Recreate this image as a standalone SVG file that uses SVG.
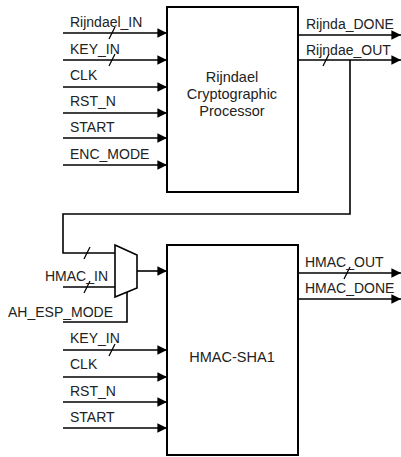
<svg xmlns="http://www.w3.org/2000/svg" width="401" height="457" viewBox="0 0 401 457">
<style>
text{font-family:"Liberation Sans",Arial,sans-serif;font-size:14px;fill:#222}
.c{text-anchor:middle;font-size:14.5px}
.w{fill:none;stroke:#000;stroke-width:1.6}
.a{fill:none;stroke:#000;stroke-width:1.6;marker-end:url(#ah)}
.box{fill:#fff;stroke:#000;stroke-width:2}
.s{stroke:#000;stroke-width:1.2}
</style>
<defs>
<marker id="ah" viewBox="0 0 10 10" refX="10" refY="5" markerWidth="6" markerHeight="6" orient="auto" markerUnits="strokeWidth">
<path d="M0,0 L10,5 L0,10 z" fill="#000"/>
</marker>
</defs>
<g id="connectors">
<line class="a" x1="63" y1="33" x2="167" y2="33"/>
<line class="a" x1="63" y1="60" x2="167" y2="60"/>
<line class="a" x1="63" y1="87" x2="167" y2="87"/>
<line class="a" x1="63" y1="113" x2="167" y2="113"/>
<line class="a" x1="63" y1="138" x2="167" y2="138"/>
<line class="a" x1="63" y1="165" x2="167" y2="165"/>
<line class="s" x1="109" y1="39" x2="115" y2="27"/>
<line class="s" x1="109" y1="66" x2="115" y2="54"/>
<line class="a" x1="298" y1="35" x2="401" y2="35"/>
<line class="a" x1="298" y1="60" x2="401" y2="60"/>
<line class="s" x1="323" y1="66" x2="329" y2="54"/>
<polyline class="w" points="350,60 350,214 63,214 63,253 115,253"/>
<line class="s" x1="84" y1="259" x2="90" y2="247"/>
<line class="w" x1="63" y1="287" x2="115" y2="287"/>
<line class="s" x1="84" y1="293" x2="90" y2="281"/>
<polyline class="w" points="63,322 127,322 127,292"/>
<line class="a" x1="137" y1="271" x2="167" y2="271"/>
<line class="a" x1="298" y1="273" x2="401" y2="273"/>
<line class="a" x1="298" y1="299" x2="401" y2="299"/>
<line class="s" x1="344" y1="279" x2="350" y2="267"/>
<line class="a" x1="63" y1="350" x2="167" y2="350"/>
<line class="a" x1="63" y1="377" x2="167" y2="377"/>
<line class="a" x1="63" y1="402" x2="167" y2="402"/>
<line class="a" x1="63" y1="428" x2="167" y2="428"/>
<line class="s" x1="109" y1="356" x2="115" y2="344"/>
</g>
<g id="rijndael">
<rect class="box" x="167" y="7" width="131" height="185"/>
<text class="c" x="232" y="82">Rijndael</text>
<text class="c" x="232" y="99">Cryptographic</text>
<text class="c" x="232" y="116">Processor</text>
</g>
<g id="mux">
<polygon class="box" points="115,245 137,255 137,288 115,297" style="stroke-width:1.6"/>
</g>
<g id="hmac">
<rect class="box" x="167" y="245" width="131" height="210"/>
<text class="c" x="232" y="362">HMAC-SHA1</text>
</g>
<g id="labels">
<text x="70" y="27">Rijndael_IN</text>
<text x="70" y="54">KEY_IN</text>
<text x="70" y="80">CLK</text>
<text x="70" y="106">RST_N</text>
<text x="70" y="132">START</text>
<text x="70" y="159">ENC_MODE</text>
<text x="306" y="29">Rijnda_DONE</text>
<text x="306" y="55">Rijndae_OUT</text>
<text x="45" y="281">HMAC_IN</text>
<text x="8" y="317">AH_ESP_MODE</text>
<text x="305" y="267">HMAC_OUT</text>
<text x="305" y="293">HMAC_DONE</text>
<text x="70" y="343">KEY_IN</text>
<text x="70" y="369">CLK</text>
<text x="70" y="396">RST_N</text>
<text x="70" y="422">START</text>
</g>
</svg>
